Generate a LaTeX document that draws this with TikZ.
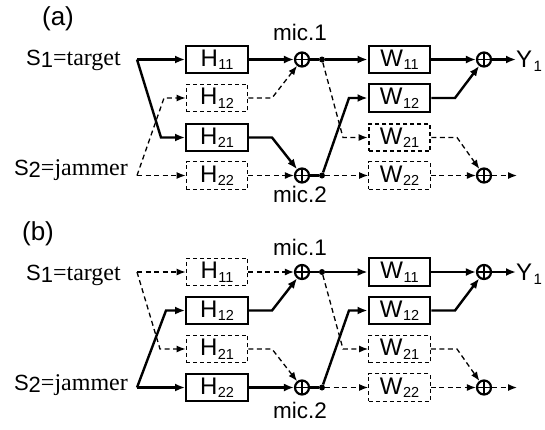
\documentclass[tikz,border=0pt]{standalone}
\usepackage{fontspec}
\setmainfont{Liberation Serif}
\setsansfont{Liberation Sans}
\usetikzlibrary{arrows.meta}

% H / W block label with subscript index
\newcommand\blocklabel[2]{{\fontsize{24}{24}\selectfont #1}\kern0.5pt\raisebox{-3.5pt}{\fontsize{14.5}{14.5}\selectfont #2}}
% source label: sans "S<n>" followed by serif "=name"
\newcommand\srclabel[2]{{\sffamily\fontsize{22}{22}\selectfont S\raisebox{-2pt}{#1}}{\fontsize{24}{24}\selectfont =#2}}

\tikzset{
  sig/.style={line width=2.4pt, -{Latex[length=10pt,width=8pt]}},
  sigd/.style={line width=1.3pt, dash pattern=on 5pt off 3.5pt, -{Latex[length=9pt,width=7pt]}},
  wire/.style={line width=2.4pt},
  blk/.style={draw, line width=2.4pt, minimum width=61.5pt, minimum height=27.5pt,
              inner sep=0pt, font=\sffamily},
  blkd/.style={blk, line width=1.3pt, dash pattern=on 4pt off 3pt},
  blkdb/.style={blk, line width=2.2pt, dash pattern=on 4pt off 3pt},
  sum/.style={circle, draw, line width=2.2pt, minimum size=14pt, inner sep=0pt,
              path picture={\draw[line width=1.8pt]
                (path picture bounding box.north) -- (path picture bounding box.south)
                (path picture bounding box.west) -- (path picture bounding box.east);}},
  tap/.style={circle, fill, minimum size=6pt, inner sep=0pt},
  lbl/.style={font=\sffamily\fontsize{22.5}{22.5}\selectfont, inner sep=0pt},
  tag/.style={font=\sffamily\fontsize{26}{26}\selectfont, inner sep=0pt},
  src/.style={anchor=base east, inner sep=0pt},
  outlbl/.style={font=\sffamily\fontsize{24}{24}\selectfont, inner sep=0pt, anchor=base west},
}

\begin{document}
\begin{tikzpicture}[x=1pt, y=-1pt]
\useasboundingbox (0,0) rectangle (545,429);

% ---------------- panel (a) ----------------
\node[tag] (a-tag) at (58,19) {(a)};
\node[src] (a-s1) at (121,65) {\srclabel{1}{target}};
\node[src] (a-s2) at (128,175) {\srclabel{2}{jammer}};
\coordinate (a-p1) at (137,59.5);
\coordinate (a-p2) at (137,175.5);

\node[blk]  (a-h11) at (217,59.5)  {\blocklabel{H}{11}};
\node[blkd] (a-h12) at (217,98)    {\blocklabel{H}{12}};
\node[blk]  (a-h21) at (217,137.5) {\blocklabel{H}{21}};
\node[blkd] (a-h22) at (217,175.5) {\blocklabel{H}{22}};

\node[sum] (a-m1) at (302,59.5) {};
\node[sum] (a-m2) at (302,175.5) {};
\node[lbl] (a-mic1) at (300,32) {mic.1};
\node[lbl] (a-mic2) at (300,194) {mic.2};
\node[tap] (a-t1) at (322,59.5) {};
\node[tap] (a-t2) at (322,175.5) {};

\node[blk]   (a-w11) at (399.5,59.5)  {\blocklabel{W}{11}};
\node[blk]   (a-w12) at (399.5,98)    {\blocklabel{W}{12}};
\node[blkdb] (a-w21) at (399.5,137.5) {\blocklabel{W}{21}};
\node[blkd]  (a-w22) at (399.5,175.5) {\blocklabel{W}{22}};

\node[sum] (a-o1) at (484,59.5) {};
\node[sum] (a-o2) at (484,175.5) {};
\node[outlbl] (a-y1) at (516,67) {Y\kern1.5pt\raisebox{-4pt}{\fontsize{15}{15}\selectfont 1}};
\coordinate (a-e2) at (517,175.5);

\draw[sig]  (a-p1) -- (a-h11);
\draw[sig]  (a-p1) -- (161,137.5) -- (a-h21);
\draw[sigd] (a-p2) -- (164,98) -- (a-h12);
\draw[sigd] (a-p2) -- (a-h22);

\draw[sig]  (a-h11) -- (a-m1);
\draw[sigd] (a-h12) -- (272,98) -- (a-m1);
\draw[sig]  (a-h21) -- (272,137.5) -- (a-m2);
\draw[sigd] (a-h22) -- (a-m2);

\draw[wire] (a-m1) -- (a-t1);
\draw[wire] (a-m2) -- (a-t2);
\draw[sig]  (a-t1) -- (a-w11);
\draw[sigd] (a-t1) -- (343,137.5) -- (a-w21);
\draw[sig]  (a-t2) -- (349,98) -- (a-w12);
\draw[sigd] (a-t2) -- (a-w22);

\draw[sig]  (a-w11) -- (a-o1);
\draw[sig]  (a-w12) -- (455,98) -- (a-o1);
\draw[sigd] (a-w21) -- (457,137.5) -- (a-o2);
\draw[sigd] (a-w22) -- (a-o2);
\draw[sig]  (a-o1) -- (a-o1 -| a-y1.west);
\draw[sigd] (a-o2) -- (a-e2);

% ---------------- panel (b) ----------------
\node[tag] (b-tag) at (38,234) {(b)};
\node[src] (b-s1) at (121,280) {\srclabel{1}{target}};
\node[src] (b-s2) at (128,390) {\srclabel{2}{jammer}};
\coordinate (b-p1) at (137,272);
\coordinate (b-p2) at (137,387.5);

\node[blkd] (b-h11) at (217,272)   {\blocklabel{H}{11}};
\node[blk]  (b-h12) at (217,310.5) {\blocklabel{H}{12}};
\node[blkd] (b-h21) at (217,349)   {\blocklabel{H}{21}};
\node[blk]  (b-h22) at (217,387.5) {\blocklabel{H}{22}};

\node[sum] (b-m1) at (302,272) {};
\node[sum] (b-m2) at (302,387.5) {};
\node[lbl] (b-mic1) at (300,247) {mic.1};
\node[lbl] (b-mic2) at (300,410) {mic.2};
\node[tap] (b-t1) at (322,272) {};
\node[tap] (b-t2) at (322,387.5) {};

\node[blk]  (b-w11) at (399.5,272)   {\blocklabel{W}{11}};
\node[blk]  (b-w12) at (399.5,310.5) {\blocklabel{W}{12}};
\node[blkd] (b-w21) at (399.5,349)   {\blocklabel{W}{21}};
\node[blkd] (b-w22) at (399.5,387.5) {\blocklabel{W}{22}};

\node[sum] (b-o1) at (484,272) {};
\node[sum] (b-o2) at (484,387.5) {};
\node[outlbl] (b-y1) at (516,280) {Y\kern1.5pt\raisebox{-4pt}{\fontsize{15}{15}\selectfont 1}};
\coordinate (b-e2) at (517,387.5);

\draw[sigd] (b-p1) -- (b-h11);
\draw[sigd] (b-p1) -- (160,349) -- (b-h21);
\draw[sig]  (b-p2) -- (166,310.5) -- (b-h12);
\draw[sig]  (b-p2) -- (b-h22);

\draw[sigd] (b-h11) -- (b-m1);
\draw[sig]  (b-h12) -- (272,310.5) -- (b-m1);
\draw[sigd] (b-h21) -- (272,349) -- (b-m2);
\draw[sig]  (b-h22) -- (b-m2);

\draw[wire] (b-m1) -- (b-t1);
\draw[wire] (b-m2) -- (b-t2);
\draw[sig]  (b-t1) -- (b-w11);
\draw[sigd] (b-t1) -- (343,349) -- (b-w21);
\draw[sig]  (b-t2) -- (349,310.5) -- (b-w12);
\draw[sigd] (b-t2) -- (b-w22);

\draw[sig]  (b-w11) -- (b-o1);
\draw[sig]  (b-w12) -- (455,310.5) -- (b-o1);
\draw[sigd] (b-w21) -- (457,349) -- (b-o2);
\draw[sigd] (b-w22) -- (b-o2);
\draw[sig]  (b-o1) -- (b-o1 -| b-y1.west);
\draw[sigd] (b-o2) -- (b-e2);
\end{tikzpicture}
\end{document}
